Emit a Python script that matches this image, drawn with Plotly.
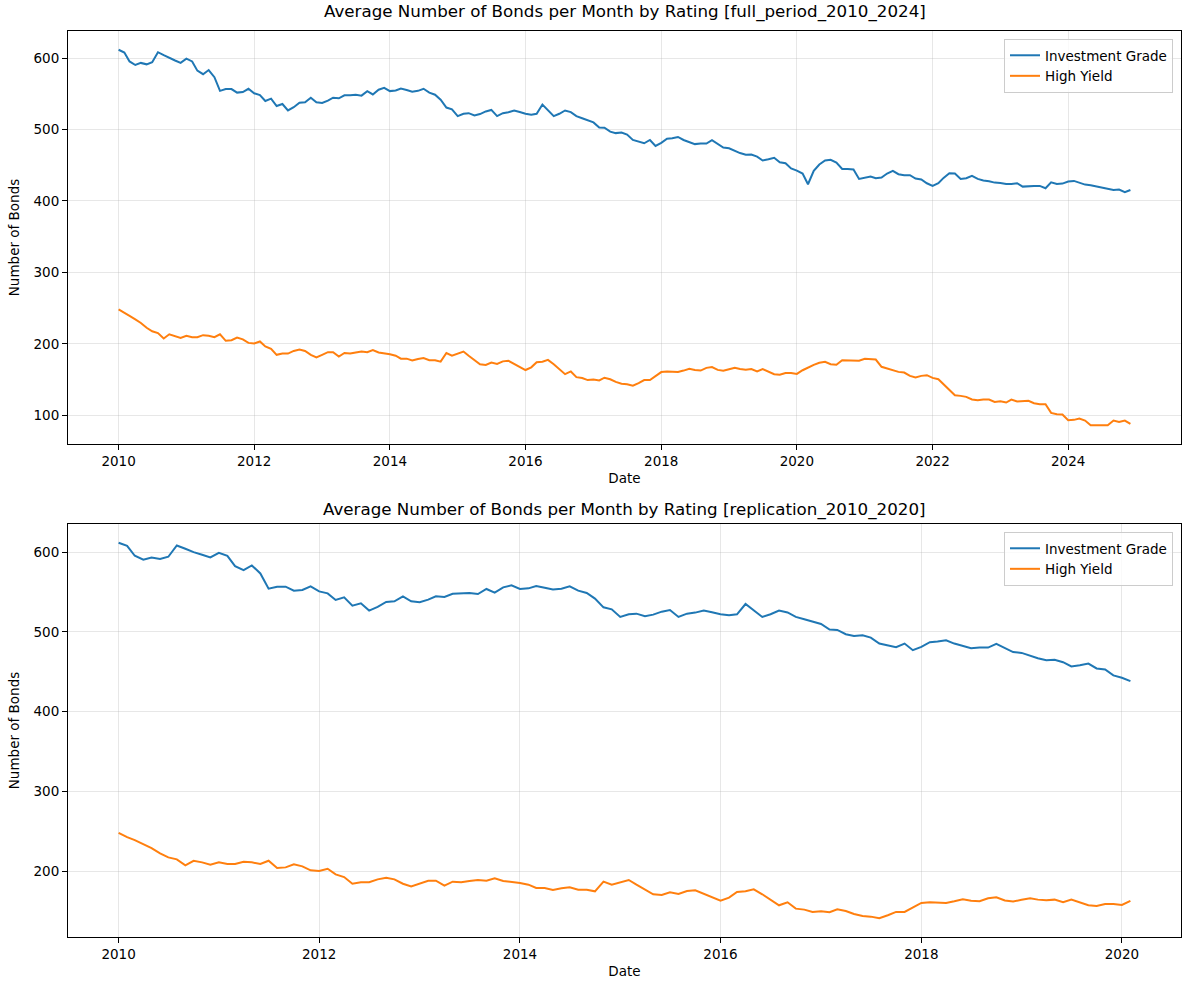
import pandas as pd
import plotly.graph_objects as go

START_DATE = "2010-01-01"
REPLICATION_END = "2020-02-01"

investment_grade = [
    611.7, 607.9, 595.4, 590.4, 593.3, 591.3, 594.2, 608.3, 604.2, 600.0,
    596.7, 593.3, 599.2, 595.4, 582.5, 577.5, 583.3, 573.3, 554.2, 556.7,
    556.7, 551.7, 552.5, 557.1, 550.8, 548.3, 540.0, 543.3, 532.9, 535.8,
    526.7, 531.3, 537.5, 538.3, 544.6, 538.3, 537.1, 540.4, 544.6, 543.8,
    547.9, 547.9, 548.8, 547.5, 553.8, 549.2, 555.8, 558.3, 553.8, 554.6,
    557.5, 555.4, 553.1, 554.2, 557.1, 551.7, 548.8, 541.7, 530.8, 528.3,
    518.8, 522.1, 522.9, 519.6, 521.7, 525.4, 527.5, 518.8, 522.9, 524.2,
    526.7, 524.6, 522.1, 520.8, 522.1, 535.0, 527.5, 518.8, 522.1, 526.7,
    524.4, 518.8, 515.8, 512.9, 510.0, 502.9, 502.5, 497.1, 495.0, 495.8,
    492.9, 485.4, 483.3, 480.8, 485.4, 477.1, 481.3, 487.1, 487.9, 489.6,
    485.4, 482.5, 479.6, 480.4, 480.4, 485.0, 479.5, 474.8, 473.7, 470.0,
    467.1, 464.6, 465.0, 462.1, 456.7, 458.3, 460.4, 454.2, 452.9, 445.5,
    442.5, 438.3, 423.4, 442.1, 451.0, 456.6, 457.6, 453.8, 444.9, 444.9,
    444.0, 430.9, 432.8, 434.2, 431.8, 432.8, 438.4, 442.1, 437.5, 436.0,
    436.0, 431.4, 430.0, 424.8, 421.1, 424.8, 432.3, 438.9, 438.4, 430.9,
    431.8, 435.1, 430.9, 428.6, 427.6, 425.7, 425.3, 423.9, 423.9, 424.8,
    420.1, 421.1, 421.1, 421.1, 417.8, 426.2, 423.9, 424.3, 427.2, 428.1,
    425.7, 422.9, 422.0, 420.1, 418.3, 417.3, 415.4, 415.9, 412.2, 415.4,
]

high_yield = [
    248.3, 242.9, 239.2, 234.2, 229.2, 222.5, 217.5, 215.0, 207.5, 213.3,
    211.3, 208.3, 211.3, 209.2, 209.2, 212.1, 211.3, 209.2, 213.3, 204.2,
    205.0, 208.8, 206.3, 201.3, 200.4, 203.3, 196.3, 192.9, 184.6, 186.3,
    186.3, 190.0, 192.1, 190.0, 184.5, 181.0, 184.6, 188.3, 188.3, 182.1,
    187.1, 186.3, 187.9, 189.2, 188.3, 191.3, 187.9, 187.1, 185.4, 183.3,
    179.2, 179.2, 176.7, 178.8, 180.0, 177.1, 177.1, 175.0, 187.1, 183.3,
    186.3, 189.2, 183.3, 177.1, 171.3, 170.4, 173.8, 171.7, 175.4, 176.3,
    171.9, 168.3, 163.3, 167.1, 174.2, 175.0, 177.5, 171.3, 164.6, 157.5,
    161.3, 153.3, 152.1, 149.2, 150.0, 148.8, 152.5, 150.4, 146.7, 144.2,
    143.3, 141.3, 145.0, 149.2, 149.2, 155.0, 160.4, 161.3, 161.3, 160.4,
    162.5, 165.0, 163.3, 162.5, 166.3, 167.5, 163.5, 162.3, 164.4, 166.3,
    164.6, 163.8, 164.6, 161.3, 164.6, 161.3, 157.5, 156.7, 159.2, 159.1,
    157.9, 163.0, 166.8, 170.6, 173.4, 174.8, 171.5, 170.6, 177.1, 177.1,
    177.1, 176.2, 179.0, 179.0, 178.0, 167.8, 165.4, 163.6, 160.7, 159.8,
    155.1, 152.8, 155.1, 156.1, 152.3, 150.5, 143.0, 136.0, 128.0, 127.1,
    125.7, 122.0, 121.0, 122.0, 122.0, 118.7, 119.6, 117.8, 122.0, 119.2,
    120.1, 120.1, 116.8, 115.4, 115.4, 103.3, 101.4, 100.9, 93.0, 93.5,
    95.3, 92.5, 86.0, 86.0, 86.9, 86.0, 92.5, 90.7, 92.5, 87.9,
]

series_names = ["Investment Grade", "High Yield"]
panel_titles = [
    "Average Number of Bonds per Month by Rating [full_period_2010_2024]",
    "Average Number of Bonds per Month by Rating [replication_2010_2020]",
]

dates = pd.date_range(START_DATE, periods=len(investment_grade), freq="MS")
df = pd.DataFrame({"date": dates, "ig": investment_grade, "hy": high_yield})
df_rep = df[df["date"] <= pd.Timestamp(REPLICATION_END)]

colors = ["#1f77b4", "#ff7f0e"]
FONT = "DejaVu Sans"
GRID = "rgba(176,176,176,0.3)"


def auto_range(vals, margin=0.05):
    lo, hi = min(vals), max(vals)
    span = hi - lo
    return [lo - margin * span, hi + margin * span]


def date_range(d, margin=0.05):
    lo, hi = d.min(), d.max()
    span = hi - lo
    return [lo - margin * span, hi + margin * span]


fig = go.Figure()
for i, (frame, xa, ya, leg) in enumerate([(df, "x", "y", "legend"), (df_rep, "x2", "y2", "legend2")]):
    for name, col, c in zip(series_names, ["ig", "hy"], colors):
        fig.add_trace(go.Scatter(
            x=frame["date"], y=frame[col], mode="lines", name=name,
            line=dict(color=c, width=2), xaxis=xa, yaxis=ya, legend=leg,
        ))

W, H = 1189, 990
ml, mr, mt, mb = 68, 8, 31, 53
ph = H - mt - mb
top_dom = [(H - mb - 444) / ph, 1.0]
bot_dom = [0.0, (H - mb - 524) / ph]

axis_common = dict(
    showgrid=True, gridcolor=GRID, gridwidth=1, zeroline=False,
    showline=True, mirror=True, linecolor="black", linewidth=1,
    ticks="outside", ticklen=5, tickcolor="black", tickwidth=1,
    tickfont=dict(family=FONT, size=13.5, color="black"),
)
xcommon = dict(axis_common, tickformat="%Y", dtick="M24", tick0=START_DATE,
               title=dict(text="Date", font=dict(family=FONT, size=13.5, color="black"), standoff=5))
ycommon = dict(axis_common, dtick=100,
               title=dict(text="Number of Bonds", font=dict(family=FONT, size=13.5, color="black"), standoff=10))

legend_common = dict(
    xanchor="right", yanchor="top", bgcolor="rgba(255,255,255,0.8)",
    bordercolor="#cccccc", borderwidth=1,
    font=dict(family=FONT, size=13.5, color="black"),
    tracegroupgap=0,
)

fig.update_layout(
    width=W, height=H,
    margin=dict(l=ml, r=mr, t=mt, b=mb),
    paper_bgcolor="white", plot_bgcolor="white",
    font=dict(family=FONT, color="black"),
    xaxis=dict(xcommon, domain=[0, 1], anchor="y", range=date_range(df["date"])),
    yaxis=dict(ycommon, domain=top_dom, anchor="x",
               range=auto_range(list(df["ig"]) + list(df["hy"]))),
    xaxis2=dict(xcommon, domain=[0, 1], anchor="y2", range=date_range(df_rep["date"])),
    yaxis2=dict(ycommon, domain=bot_dom, anchor="x2",
                range=auto_range(list(df_rep["ig"]) + list(df_rep["hy"]))),
    legend=dict(legend_common, x=1 - 8 / (W - ml - mr), y=1 - 8 / ph),
    legend2=dict(legend_common, x=1 - 8 / (W - ml - mr), y=bot_dom[1] - 8 / ph),
    annotations=[
        dict(text=panel_titles[0], xref="paper", yref="paper", x=0.5, y=top_dom[1],
             xanchor="center", yanchor="bottom", yshift=7, showarrow=False,
             font=dict(family=FONT, size=16.7, color="black")),
        dict(text=panel_titles[1], xref="paper", yref="paper", x=0.5, y=bot_dom[1],
             xanchor="center", yanchor="bottom", yshift=2, showarrow=False,
             font=dict(family=FONT, size=16.7, color="black")),
    ],
)

fig.write_html("out.html")
